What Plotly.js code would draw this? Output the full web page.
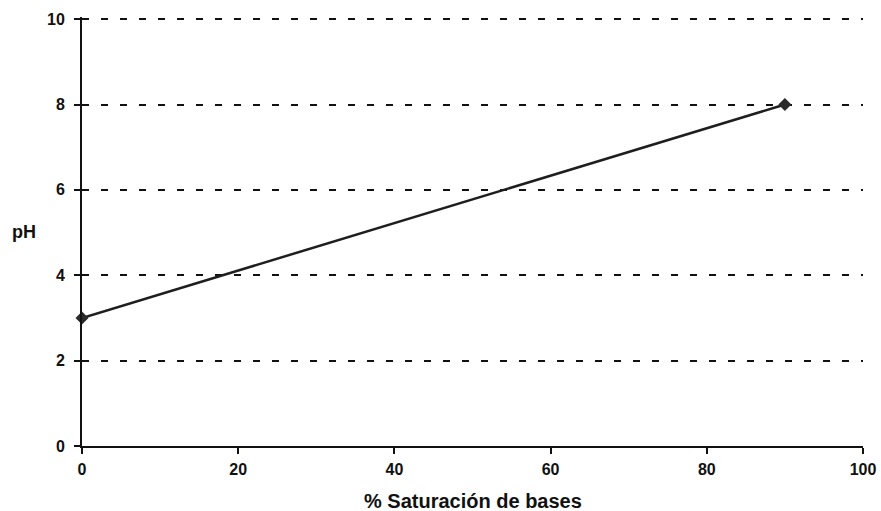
<!DOCTYPE html>
<html>
<head>
<meta charset="utf-8">
<script src="https://cdn.plot.ly/plotly-3.0.1.min.js"></script>
<style>html,body{margin:0;padding:0;background:#fff;}#chart{width:881px;height:511px;}</style>
</head>
<body>
<div id="chart"></div>
<script>
var saturation = [0, 90];
var phValues = [3, 8];
var xTicks = [0, 20, 40, 60, 80, 100];
var yTicks = [0, 2, 4, 6, 8, 10];

var trace = {
  x: saturation,
  y: phValues,
  type: 'scatter',
  mode: 'lines+markers',
  line: {color: '#1e1e1e', width: 2.5},
  marker: {symbol: 'diamond', size: 10, color: '#2a2a2a'},
  cliponaxis: false,
  hoverinfo: 'none'
};

var fam = 'Liberation Sans, Arial, sans-serif';

var layout = {
  width: 881,
  height: 511,
  margin: {l: 82, r: 18, t: 17, b: 65},
  paper_bgcolor: '#fff',
  plot_bgcolor: '#fff',
  showlegend: false,
  xaxis: {
    range: [0, 100],
    tickvals: xTicks,
    ticktext: xTicks.map(String),
    showgrid: false,
    zeroline: false,
    showline: true,
    linecolor: '#111',
    linewidth: 2,
    ticks: 'outside',
    ticklen: 6,
    tickwidth: 2,
    tickcolor: '#111',
    ticklabelstandoff: 2,
    tickfont: {family: fam, size: 16, color: '#111', weight: 'bold'},
    fixedrange: true
  },
  yaxis: {
    range: [0, 10.05],
    tickvals: yTicks,
    ticktext: yTicks.map(String),
    showgrid: true,
    gridcolor: '#111',
    gridwidth: 2,
    griddash: '7px,12px',
    zeroline: false,
    showline: true,
    linecolor: '#111',
    linewidth: 2,
    ticks: 'outside',
    ticklen: 6,
    tickwidth: 2,
    tickcolor: '#111',
    ticklabelstandoff: 6,
    tickfont: {family: fam, size: 16, color: '#111', weight: 'bold'},
    fixedrange: true
  },
  annotations: [
    {
      text: '% Saturación de bases',
      xref: 'paper', yref: 'paper',
      x: 0.5, y: 0, yshift: -55,
      xanchor: 'center', yanchor: 'middle',
      showarrow: false,
      font: {family: fam, size: 20, color: '#111', weight: 'bold'}
    },
    {
      text: 'pH',
      xref: 'paper', yref: 'paper',
      x: 0, xshift: -58, y: 0.5,
      xanchor: 'center', yanchor: 'middle',
      showarrow: false,
      font: {family: fam, size: 18, color: '#111', weight: 'bold'}
    }
  ]
};

Plotly.newPlot('chart', [trace], layout, {staticPlot: true, displayModeBar: false});
</script>
</body>
</html>
